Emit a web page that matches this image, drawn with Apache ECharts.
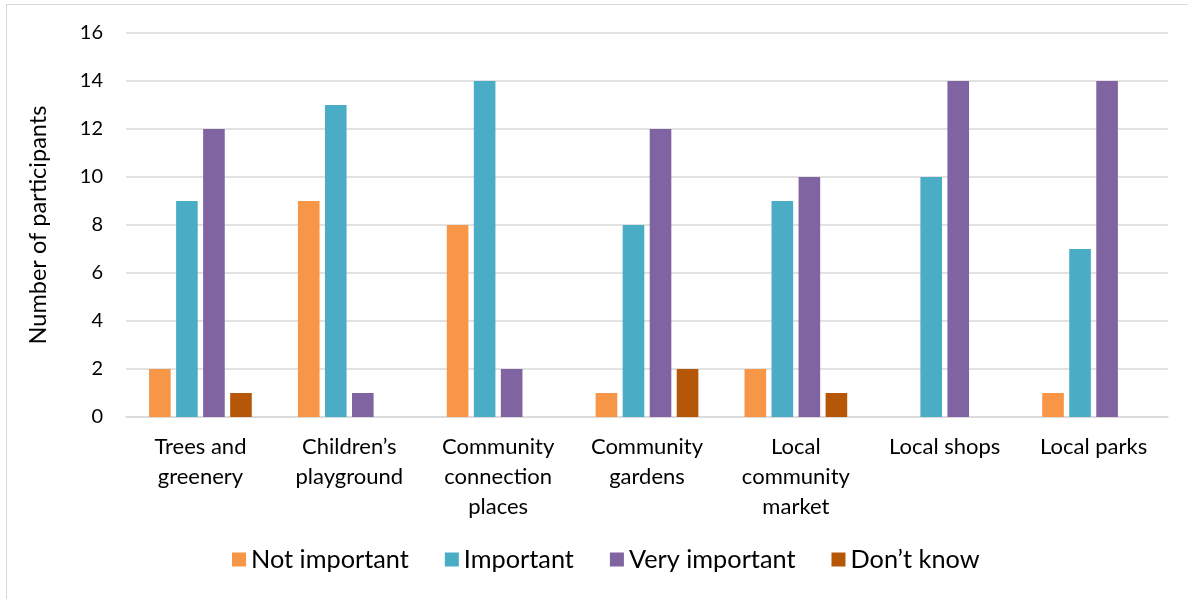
<!DOCTYPE html>
<html>
<head>
<meta charset="utf-8">
<script src="https://cdn.jsdelivr.net/npm/echarts@6/dist/echarts.min.js"></script>
<style>
  html, body { margin: 0; padding: 0; background: #fff; }
  #frame { position: absolute; left: 6px; top: 4px; width: 1182px; height: 600px;
           border-left: 1px solid #d9d9d9; border-top: 1px solid #d9d9d9; box-sizing: border-box; }
  #chart { position: absolute; left: 0; top: 0; width: 1196px; height: 599px; }
</style>
</head>
<body>
<div id="frame"></div>
<div id="chart"></div>
<script>
const categories = [
  'Trees and\ngreenery',
  'Children\u2019s\nplayground',
  'Community\nconnection\nplaces',
  'Community\ngardens',
  'Local\ncommunity\nmarket',
  'Local shops',
  'Local parks'
];
const notImportant  = [2, 9, 8, 1, 2, 0, 1];
const important     = [9, 13, 14, 8, 9, 10, 7];
const veryImportant = [12, 1, 2, 12, 10, 14, 14];
const dontKnow      = [1, 0, 0, 2, 1, 0, 0];
const yTicks = { min: 0, max: 16, interval: 2 };

const font = 'Lato, "Open Sans", sans-serif';
const chart = echarts.init(document.getElementById('chart'));

function barSeries(name, data, color) {
  return {
    name: name,
    type: 'bar',
    data: data,
    barGap: '25%',
    barCategoryGap: '31%',
    itemStyle: { color: color }
  };
}

chart.setOption({
  animation: false,
  textStyle: { fontFamily: font },
  grid: { left: 126, right: 28, top: 33, bottom: 182 },
  legend: {
    bottom: 22,
    left: 227,
    itemWidth: 14,
    itemHeight: 14,
    itemGap: 36,
    itemTextGap: 7,
    icon: 'rect',
    textStyle: { fontSize: 25.3, color: '#000', fontFamily: font },
    data: ['Not important', 'Important', 'Very important', 'Don\u2019t know']
  },
  xAxis: {
    type: 'category',
    data: categories,
    axisLine: { lineStyle: { color: '#d9d9d9', width: 1.5 } },
    axisTick: { show: false },
    axisLabel: { fontSize: 22, color: '#000', lineHeight: 30, margin: 15, interval: 0, fontFamily: font }
  },
  yAxis: {
    type: 'value',
    min: yTicks.min,
    max: yTicks.max,
    interval: yTicks.interval,
    name: 'Number of participants',
    nameLocation: 'middle',
    nameGap: 76,
    nameTextStyle: { fontSize: 23.5, color: '#000', fontFamily: font },
    axisLine: { show: false },
    axisTick: { show: false },
    axisLabel: { fontSize: 20, color: '#000', margin: 23, fontFamily: font },
    splitLine: { lineStyle: { color: '#d9d9d9', width: 1.5 } }
  },
  series: [
    barSeries('Not important', notImportant, '#F79646'),
    barSeries('Important', important, '#4BACC6'),
    barSeries('Very important', veryImportant, '#8064A2'),
    barSeries('Don\u2019t know', dontKnow, '#B65708')
  ]
});
</script>
</body>
</html>
